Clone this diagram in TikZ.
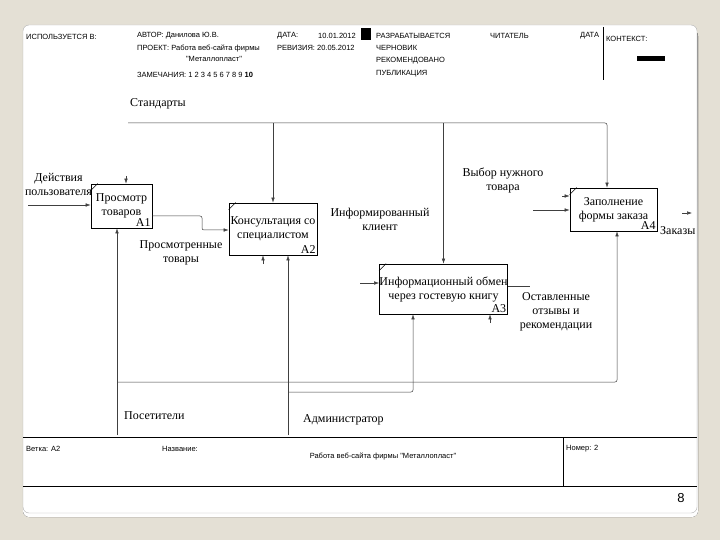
\documentclass[tikz,border=0pt]{standalone}
\usepackage{fontspec}
\setmainfont{Liberation Serif}
\newfontfamily\hdrfont{Liberation Sans}
\usetikzlibrary{arrows.meta}

\definecolor{slidebg}{HTML}{E4E0D5}
\definecolor{shade}{HTML}{9A9896}

\begin{document}
\begin{tikzpicture}[x=1pt, y=-1pt, >=Latex, every node/.style={font=\fontsize{12}{14}\selectfont, inner sep=0pt}, fn/.style={draw, line width=0.7pt, align=center}, idx/.style={anchor=south east, inner sep=1.5pt}, hd/.style={font=\hdrfont\fontsize{7.5}{9}\selectfont, anchor=west}, lbl/.style={align=center}, arr/.style={-{Latex[length=5pt,width=3.5pt]}, line width=0.5pt, black!75, rounded corners=2pt}, ln/.style={line width=0.5pt, black!75, rounded corners=2pt}]
% slide and card
\fill[slidebg] (0,0) rectangle (720,540);
\fill[shade, rounded corners=6pt] (23,30) rectangle (698,517);
\filldraw[fill=white, draw=black!30, rounded corners=6pt] (23,25) rectangle (697,513);
% header
\node[hd] (used) at (26,37) {ИСПОЛЬЗУЕТСЯ В:};
\node[hd] (author) at (137,36) {АВТОР: Данилова Ю.В.};
\node[hd] (date) at (277,36) {ДАТА:};
\node[hd] (dateval) at (318,36) {10.01.2012};
\node[hd] (project) at (137,48) {ПРОЕКТ: Работа веб-сайта фирмы};
\node[hd, anchor=center] (project2) at (214,59) {"Металлопласт"};
\node[hd] (rev) at (277,48) {РЕВИЗИЯ: 20.05.2012};
\node[hd] (notes) at (137,75) {ЗАМЕЧАНИЯ: 1 2 3 4 5 6 7 8 9 \textbf{10}};
\fill (361,28) rectangle (371,40);
\foreach \y/\t [count=\i] in {36/РАЗРАБАТЫВАЕТСЯ, 48/ЧЕРНОВИК, 61/РЕКОМЕНДОВАНО, 74/ПУБЛИКАЦИЯ}
  \node[hd] (st\i) at (376,\y) {\t};
\node[hd] (reader) at (490,36) {ЧИТАТЕЛЬ};
\node[hd] (rdate) at (580,36) {ДАТА};
\draw[line width=0.8pt] (603,27) -- (603,80);
\node[hd] (ctx) at (606,39) {КОНТЕКСТ:};
\fill (637,56) rectangle (665,61);
% function boxes
\node[fn, minimum width=61pt, minimum height=44pt] (a1) at (121.5,206) {Просмотр\\товаров};
\node[fn, minimum width=88pt, minimum height=52pt] (a2) at (273,229) {Консультация со\\специалистом};
\node[fn, minimum width=125pt, minimum height=50pt] (a3) at (443.5,289) {Информационный обмен\\через гостевую книгу};
\node[fn, minimum width=87pt, minimum height=43pt] (a4) at (613.5,209.5) {Заполнение\\формы заказа};
\foreach \b/\n in {a1/A1, a2/A2, a3/A3, a4/A4}{
  \node[idx] (n\b) at (\b.south east) {\n};
  \draw[line width=0.5pt] ([yshift=-7pt]\b.north west) -- ([xshift=7pt]\b.north west);
}
% labels
\node[anchor=west] (std) at (130,104) {Стандарты};
\node[lbl] (usrlab) at (58.5,184) {Действия\\пользователя};
\node[lbl] (seen) at (181,253) {Просмотренные\\товары};
\node[lbl] (client) at (380,219) {Информированный\\клиент};
\node[lbl] (choice) at (503,180) {Выбор нужного\\товара};
\node[lbl] (reviews) at (556,312) {Оставленные\\отзывы и\\рекомендации};
\node[anchor=west] (orders) at (660,231) {Заказы};
\node[anchor=west] (visitors) at (124,416) {Посетители};
\node[anchor=west] (admin) at (303,420) {Администратор};
% points
\coordinate (ctl) at (128,123);
\coordinate (ctlR) at (607,123);
\coordinate (usr) at (28,205);
\coordinate (b1) at (202,216);
\coordinate (b2) at (202,230);
\coordinate (c1) at (126,176);
\coordinate (vis) at (117,435);
\coordinate (visR) at (617,382);
\coordinate (m2) at (263,264);
\coordinate (m3) at (490,323);
\coordinate (adm) at (288,435);
\coordinate (admR) at (413,392);
\coordinate (in3) at (360,283);
\coordinate (out3) at (530,286);
\coordinate (in4) at (533,210);
\coordinate (in4b) at (562,196);
\coordinate (out4a) at (682,213);
\coordinate (out4) at (692,213);
% controls
\draw[arr] (ctl) -- (ctlR) -- (ctlR |- a4.north);
\draw[arr] (a2.north |- ctl) -- (a2.north);
\draw[arr] (a3.north |- ctl) -- (a3.north);
\draw[arr] (c1) -- (c1 |- a1.north);
% inputs and outputs
\draw[arr] (usr) -- (usr -| a1.west);
\draw[arr] (a1.east |- b1) -- (b1) -- (b2) -- (b2 -| a2.west);
\draw[arr] (in3) -- (in3 -| a3.west);
\draw[ln] (a3.east |- out3) -- (out3);
\draw[arr] (in4) -- (in4 -| a4.west);
\draw[arr] (in4b) -- (in4b -| a4.west);
\draw[arr] (out4a) -- (out4);
% mechanisms
\draw[arr] (vis) -- (vis |- a1.south);
\draw[arr] (vis |- visR) -- (visR) -- (visR |- a4.south);
\draw[arr] (m2) -- (m2 |- a2.south);
\draw[arr] (m3) -- (m3 |- a3.south);
\draw[arr] (adm) -- (adm |- a2.south);
\draw[arr] (adm |- admR) -- (admR) -- (admR |- a3.south);
% footer
\draw[line width=0.9pt] (23,437) -- (697,437);
\draw[line width=0.9pt] (23,486) -- (697,486);
\draw[line width=0.7pt] (563,437) -- (563,486);
\node[hd] (branch) at (26,449) {Ветка: А2};
\node[hd] (title) at (162,449) {Название:};
\node[hd, anchor=center] (titleval) at (383,456) {Работа веб-сайта фирмы "Металлопласт"};
\node[hd] (number) at (566,449) {Номер: 2};
\node[font=\hdrfont\fontsize{13}{15}\selectfont] (page) at (681,498) {8};
\end{tikzpicture}
\end{document}
